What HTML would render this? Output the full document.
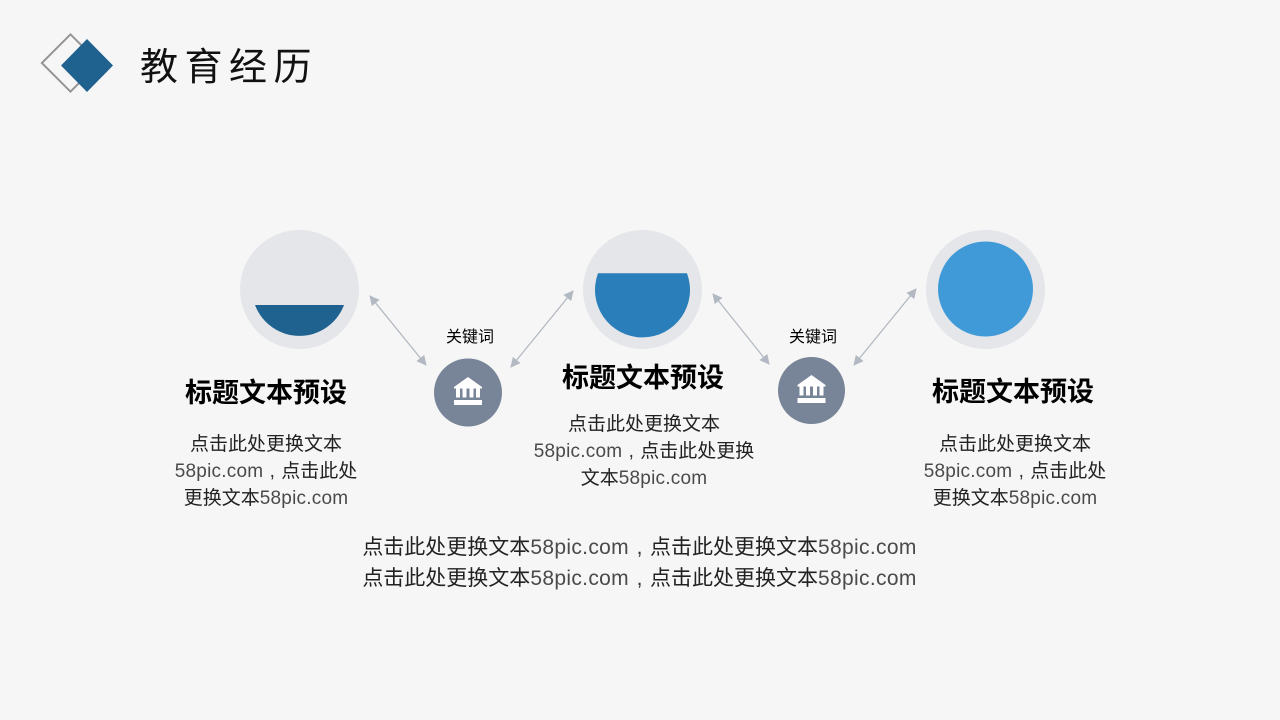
<!DOCTYPE html>
<html lang="zh">
<head>
<meta charset="utf-8">
<style>
html,body{margin:0;padding:0;background:#f6f6f6}
#p{position:relative;width:1280px;height:720px;overflow:hidden;background:#f6f6f6;font-family:"Liberation Sans","Noto Sans CJK SC",sans-serif;color:#111}
#p svg{position:absolute;left:0;top:0}
.t{position:absolute;white-space:nowrap;text-align:center;transform:translateX(-50%)}
.h{font-size:27px;font-weight:700;line-height:36px;color:#000}
.b{font-size:19px;line-height:27px;color:#222}
.k{font-size:16px;line-height:20px;color:#000}
.l{color:#4a4a4a;letter-spacing:.22px}
.c{display:inline-block;text-align:center;color:#333}
.b .c{width:18px}
.f .c{width:21px}
.f{font-size:21px;line-height:31px;color:#222}
.f .l{letter-spacing:.33px}
</style>
</head>
<body>
<div id="p">
<svg width="1280" height="720" viewBox="0 0 1280 720">
<defs>
<marker id="a" viewBox="0 0 10 10" refX="9" refY="5" markerWidth="11" markerHeight="10" orient="auto-start-reverse" markerUnits="userSpaceOnUse"><path d="M0 0L10 5L0 10z" fill="#b3b9c2"/></marker>
</defs>
<rect x="50.250" y="42.750" width="40.500" height="40.500" transform="rotate(45 70.500 63)" fill="none" stroke="#959595" stroke-width="2"/>
<path d="M87 39L113 65.500L87 92L61 65.500z" fill="#1f6290"/>
<circle cx="299.500" cy="289.500" r="59.500" fill="#e4e6ea"/>
<path d="M255 305H344A47.500 47.500 0 0 1 255 305z" fill="#1f6290"/>
<circle cx="642.500" cy="289.500" r="59.500" fill="#e4e6ea"/>
<path d="M598 273.300H687A47.500 47.500 0 1 1 598 273.300z" fill="#2a7fba"/>
<circle cx="985.500" cy="289.500" r="59.500" fill="#e4e6ea"/>
<circle cx="985.500" cy="289" r="47.500" fill="#409ad8"/>
<g stroke="#b3b9c2" stroke-width="1.300" fill="none">
<line x1="370" y1="296" x2="426" y2="365" marker-start="url(#a)" marker-end="url(#a)"/>
<line x1="573" y1="291" x2="511" y2="367" marker-start="url(#a)" marker-end="url(#a)"/>
<line x1="713" y1="294" x2="769" y2="364" marker-start="url(#a)" marker-end="url(#a)"/>
<line x1="916" y1="289" x2="854" y2="365" marker-start="url(#a)" marker-end="url(#a)"/>
</g>
<circle cx="468" cy="392.500" r="34" fill="#788497"/>
<circle cx="811.500" cy="390.500" r="33.500" fill="#788497"/>
<g fill="#fff">
<path d="M468 377L482 387H454z"/>
<rect x="454" y="387" width="28" height="1.500"/>
<rect x="456" y="388" width="4" height="9.500"/><rect x="462.500" y="388" width="4" height="9.500"/><rect x="469.500" y="388" width="4" height="9.500"/><rect x="476" y="388" width="4" height="9.500"/>
<rect x="454" y="400" width="28" height="5"/>
</g>
<g fill="#fff" transform="translate(343.500 -2)">
<path d="M468 377L482 387H454z"/>
<rect x="454" y="387" width="28" height="1.500"/>
<rect x="456" y="388" width="4" height="9.500"/><rect x="462.500" y="388" width="4" height="9.500"/><rect x="469.500" y="388" width="4" height="9.500"/><rect x="476" y="388" width="4" height="9.500"/>
<rect x="454" y="400" width="28" height="5"/>
</g>
</svg>
<div style="position:absolute;left:140px;top:41px;font-size:38px;line-height:54px;letter-spacing:6.500px;color:#111;white-space:nowrap">教育经历</div>
<div class="t h" style="left:266px;top:375px">标题文本预设</div>
<div class="t b" style="left:266px;top:431px">点击此处更换文本<br><span class="l">58pic.com</span><span class="c">,</span>点击此处<br>更换文本<span class="l">58pic.com</span></div>
<div class="t h" style="left:643px;top:360px">标题文本预设</div>
<div class="t b" style="left:644px;top:411px">点击此处更换文本<br><span class="l">58pic.com</span><span class="c">,</span>点击此处更换<br>文本<span class="l">58pic.com</span></div>
<div class="t h" style="left:1013px;top:374px">标题文本预设</div>
<div class="t b" style="left:1015px;top:431px">点击此处更换文本<br><span class="l">58pic.com</span><span class="c">,</span>点击此处<br>更换文本<span class="l">58pic.com</span></div>
<div class="t k" style="left:470px;top:328px">关键词</div>
<div class="t k" style="left:813px;top:328px">关键词</div>
<div class="t f" style="left:639.500px;top:532px">点击此处更换文本<span class="l">58pic.com</span><span class="c">,</span>点击此处更换文本<span class="l">58pic.com</span><br>点击此处更换文本<span class="l">58pic.com</span><span class="c">,</span>点击此处更换文本<span class="l">58pic.com</span></div>
</div>
</body>
</html>
